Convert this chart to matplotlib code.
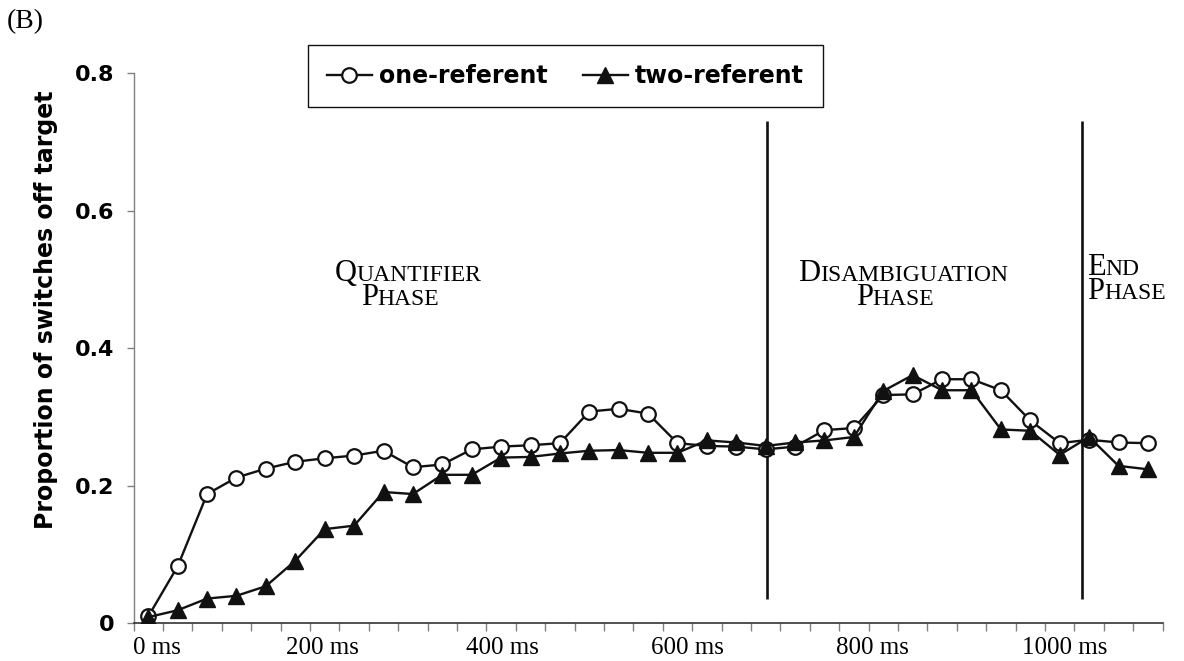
import matplotlib
matplotlib.use('Agg')
import matplotlib.pyplot as plt
from matplotlib.transforms import IdentityTransform

# proportion of switches off target, one value per 33 ms frame
one_ref = [0.010, 0.083, 0.188, 0.212, 0.225, 0.235, 0.240, 0.244, 0.251, 0.227,
           0.231, 0.253, 0.257, 0.259, 0.262, 0.308, 0.312, 0.305, 0.262, 0.258,
           0.257, 0.253, 0.257, 0.281, 0.284, 0.332, 0.333, 0.355, 0.355, 0.339,
           0.295, 0.262, 0.267, 0.263, 0.262]
two_ref = [0.009, 0.019, 0.036, 0.040, 0.054, 0.091, 0.137, 0.142, 0.191, 0.188,
           0.216, 0.216, 0.241, 0.242, 0.247, 0.251, 0.252, 0.248, 0.248, 0.266,
           0.263, 0.258, 0.263, 0.266, 0.271, 0.338, 0.361, 0.339, 0.339, 0.282,
           0.280, 0.245, 0.271, 0.229, 0.224]
frames = list(range(len(one_ref)))

tick_labels = ['0 ms', '200 ms', '400 ms', '600 ms', '800 ms', '1000 ms']
tick_frames = [0.29, 5.92, 12.05, 18.34, 24.63, 31.18]   # where the labels sit (frame units)
phase_bounds = [21.03, 31.75]                             # frame positions of the phase lines
y_ticks = [0, 0.2, 0.4, 0.6, 0.8]
y_tick_labels = ['0', '0.2', '0.4', '0.6', '0.8']

W, H = 1184, 661
fig = plt.figure(figsize=(W / 100, H / 100), dpi=100)
ax = fig.add_axes([133.6 / W, 1 - 623.3 / H, (1162.6 - 133.6) / W, (623.3 - 73.3) / H])

ax.plot(frames, one_ref, color='#111111', lw=1.7, marker='o', ms=10.5,
        mfc='white', mec='#111111', mew=1.6, zorder=3, label='one-referent')
ax.plot(frames, two_ref, color='#111111', lw=1.7, marker='^', ms=12,
        mfc='#111111', mec='#111111', zorder=4, label='two-referent')

ax.vlines(phase_bounds, 0.036, 0.73, color='#111111', lw=1.9, zorder=2)

ax.set_xlim(-0.5, len(frames) - 0.5)
ax.set_ylim(0, 0.8)

for s in ['top', 'right']:
    ax.spines[s].set_visible(False)
ax.spines['left'].set_color('#808080')
ax.spines['left'].set_linewidth(1.0)
ax.spines['bottom'].set_color('#333333')
ax.spines['bottom'].set_linewidth(1.2)

ax.set_yticks(y_ticks)
ax.set_yticklabels(y_tick_labels, fontsize=16, fontweight='bold', family='DejaVu Sans')
ax.tick_params(axis='y', length=5, color='#808080', width=1, pad=9)

ax.set_xticks(tick_frames)
ax.set_xticklabels(tick_labels, fontsize=18, family='Liberation Serif')
ax.set_xticks([k - 0.5 for k in range(len(frames) + 1)], minor=True)
ax.tick_params(axis='x', which='major', length=0, pad=10)
ax.tick_params(axis='x', which='minor', length=6, color='#808080', width=1)

fig.text(46 / W, 1 - 310 / H, 'Proportion of switches off target', rotation=90,
         ha='center', va='center', fontsize=17, fontweight='bold', family='DejaVu Sans')
fig.text(7 / W, 1 - 9 / H, '(B)', ha='left', va='top', fontsize=20, family='Liberation Serif')

leg = fig.legend(loc='upper left', bbox_to_anchor=(308 / W, 1 - 45 / H), ncol=2,
                 frameon=True, fancybox=False, edgecolor='#111111', framealpha=1,
                 prop={'family': 'DejaVu Sans', 'weight': 'bold', 'size': 17},
                 handlelength=1.9, handletextpad=0.3, columnspacing=1.5,
                 borderpad=0.8, borderaxespad=0)
leg.get_frame().set_linewidth(1.0)

# small-caps phase labels, built from a large first letter and smaller rest
renderer = fig.canvas.get_renderer()


def small_caps(word, x, base, align='center', big=22, small=17):
    t1 = fig.text(0, 0, word[0], fontsize=big, family='Liberation Serif',
                  transform=IdentityTransform(), va='baseline', ha='left')
    t2 = fig.text(0, 0, word[1:], fontsize=small, family='Liberation Serif',
                  transform=IdentityTransform(), va='baseline', ha='left')
    w1 = t1.get_window_extent(renderer).width
    w2 = t2.get_window_extent(renderer).width
    x0 = x - (w1 + w2) / 2 if align == 'center' else x
    y = H - base
    t1.set_position((x0, y))
    t2.set_position((x0 + w1, y))


small_caps('QUANTIFIER', 408, 281)
small_caps('PHASE', 400, 305)
small_caps('DISAMBIGUATION', 903, 281)
small_caps('PHASE', 895, 305)
small_caps('END', 1087, 275, align='left')
small_caps('PHASE', 1087, 299, align='left')

fig.savefig('out.png', dpi=100)
